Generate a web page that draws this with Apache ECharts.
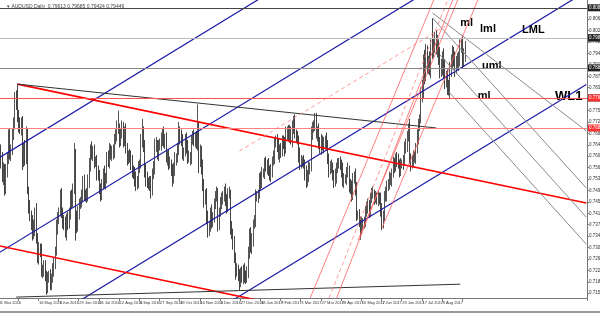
<!DOCTYPE html>
<html><head><meta charset="utf-8">
<script src="https://cdn.jsdelivr.net/npm/echarts@6/dist/echarts.min.js"></script>
<style>html,body{margin:0;padding:0;background:#fff;overflow:hidden}#c{width:600px;height:313px}</style>
</head><body><div id="c"></div>
<script>
// ---- DATA (prices x10000, daily bars from 31 Mar 2016) ----
const symbolInfo = '\u25BE AUDUSD,Daily  0.79613 0.79685 0.79424 0.79446';
const dateLabels = ['31 Mar 2016','22 Apr 2016','16 May 2016','7 Jun 2016','29 Jun 2016','21 Jul 2016','12 Aug 2016','5 Sep 2016','27 Sep 2016','19 Oct 2016','10 Nov 2016','2 Dec 2016','27 Dec 2016','18 Jan 2017','9 Feb 2017','3 Mar 2017','27 Mar 2017','18 Apr 2017','10 May 2017','1 Jun 2017','23 Jun 2017','17 Jul 2017','8 Aug 2017','30 Aug 2017'];
const firstOpen = 7680;
const closes = [
7660,7630,
7590,7540,7560,7500,7550, 7600,7670,7620,7630,7680, 7720,7800,7780,7740,7710, 7700,7720,7590,7630,7600,
7680,7490,7440,7410,7390, 7350,7370,7420,7330,7270, 7300,7290,7220,7230,7240, 7210,7170,7200,7210,7180,
7200,7230,7250,7290,7370, 7400,7420,7470,7420,7390, 7380,7350,7400,7380,7420, 7470,7450,7500,7620,7400,
7370,7420,7450,7450,7480, 7520,7480,7470,7480,7520, 7580,7630,7610,7620,7590, 7590,7550,7540,7500,7480,
7510,7550,7520,7530,7600, 7590,7630,7610,7620,7620, 7660,7680,7700,7700,7660, 7680,7700,7660,7690,7630,
7600,7610,7600,7580,7560, 7550,7530,7510,7520,7570, 7580,7660,7680,7640,7560, 7530,7520,7510,7520,7490,
7550,7570,7640,7640,7610, 7640,7650,7660,7680,7650, 7660,7600,7610,7580,7580, 7560,7530,7560,7600,7600,
7630,7690,7670,7660,7610, 7620,7660,7640,7600,7600, 7600,7660,7670,7660,7670, 7650,7700,7590,7620,7570,
7510,7460,7480,7400,7360, 7370,7420,7390,7400,7450, 7470,7480,7380,7420,7450, 7470,7470,7490,7460,7440,
7480,7480,7370,7350,7320, 7270,7220,7230,7210,7190, 7220,7200,7230,7210,
7200,7220,7290,7340,7300, 7330,7380,7390,7470,7470, 7480,7530,7520,7550,7550, 7580,7570,7580,7560,7540,
7560,7590,7600,7650,7660, 7640,7610,7630,7620,7660, 7650,7630,7680,7690,7670, 7690,7660,7700,7720,7680,
7670,7660,7610,7580,7590, 7590,7580,7550,7520,7540, 7570,7570,7680,7700,7710, 7730,7680,7690,7650,7630,
7660,7640,7650,7660,7640, 7600,7560,7570,7570,7540, 7520,7540,7570,7580,7585, 7580,7560,7520,7530,7530,
7550,7560,7510,7500,7480, 7530,7540,7500,7410,7410, 7390,7360,7380,7380,7390, 7420,7440,7440,7420,7470,
7480,7480,7470,7470,7460, 7470,7460,7430,7380,7410, 7470,7480,7510,7510,7530, 7530,7550,7580,7570,7600,
7590,7580,7560,7580,7580, 7590,7640,7640,7670,7690, 7600,7580,7590,7600,7600, 7630,7670,7710,7730,7810,
7830,7920,7880,7950,7910, 7920,7900,7970,7960,7980, 7990,7970,7970,7940,7900, 7900,7930,7900,7860,7870,
7830,7820,7900,7920,7940, 7930,7900,7920,7920,7930, 7970,7980,7930,7940,7970
];
const wickUp = [
20,25,
15,30,25,20,30, 20,25,30,15,20, 15,20,25,66,20, 25,15,20,20,30,
25,20,15,20,15, 20,25,15,30,20, 20,15,25,15,20, 20,15,20,15,20,
15,20,20,15,25, 20,15,25,30,15, 20,25,15,20,15, 20,25,15,30,10,
25,20,15,20,15, 20,25,15,20,25, 20,15,25,20,25, 15,20,25,20,15,
20,15,25,20,20, 25,20,15,20,25, 20,15,25,58,15, 20,25,20,15,25,
20,15,20,25,30, 15,20,25,20,20, 15,20,50,25,20, 20,25,15,20,20,
15,20,25,30,20, 20,15,25,20,25, 20,25,15,20,25, 15,20,25,20,15,
20,30,15,25,20, 15,20,25,20,25, 20,15,20,25,15, 20,78,20,25,20,
25,20,15,20,25, 20,15,25,20,15, 20,25,20,15,20, 15,20,15,25,20,
20,25,15,20,15, 20,15,20,15,20, 15,20,15,20,
15,20,15,25,30, 20,15,20,25,20, 15,20,25,20,15, 20,25,15,20,15,
20,15,25,20,15, 20,25,15,20,15, 15,20,25,15,20, 20,15,25,20,25,
15,20,15,25,20, 15,20,15,25,20, 20,15,25,20,15, 20,20,15,25,20,
20,15,20,15,25, 20,15,20,25,15, 20,25,15,20,15, 20,15,25,20,15,
20,25,15,20,25, 20,15,25,20,15, 20,15,25,20,15, 20,15,25,20,15,
20,25,15,20,15, 20,15,25,20,15, 20,25,15,20,25, 20,15,25,20,15,
20,25,15,20,15, 20,15,25,20,25, 40,15,20,25,20, 20,25,20,15,25,
30,25,40,30,25, 20,35,25,95,20, 30,35,40,25,30, 30,25,35,30,20,
25,30,20,25,35, 30,25,20,30,25, 25,20,30,25,20
];
const wickDown = [
20,30,
25,20,30,25,20, 15,20,25,30,20, 20,25,20,20,25, 20,25,30,20,25,
20,10,25,20,30, 25,20,30,15,20, 25,20,15,20,25, 20,25,20,15,20,
20,15,25,20,15, 25,20,15,20,25, 20,15,25,20,15, 25,20,15,20,75,
20,15,25,20,15, 25,20,15,20,25, 20,25,15,20,25, 20,25,15,20,25,
20,15,20,25,15, 20,25,15,20,25, 20,15,25,20,25, 20,15,25,20,15,
25,20,15,20,25, 20,25,20,15,20, 20,15,25,20,25, 25,20,15,20,25,
15,20,25,20,15, 20,15,25,20,15, 20,15,25,20,15, 20,25,15,20,25,
15,20,25,20,15, 20,15,25,20,15, 25,20,15,20,25, 20,25,40,20,25,
20,25,15,20,25, 20,15,25,20,15, 20,15,25,20,15, 20,25,15,20,25,
20,15,25,20,25, 20,25,15,20,30, 20,15,20,25,
20,15,20,25,15, 20,25,15,20,15, 20,15,25,20,15, 20,15,25,20,15,
20,25,15,20,15, 20,15,25,20,15, 20,25,15,20,15, 20,15,25,20,15,
20,15,25,20,15, 20,15,25,20,15, 20,25,15,20,15, 20,15,25,20,15,
20,15,25,20,15, 20,25,15,20,15, 20,15,25,20,15, 20,25,15,20,15,
20,15,25,20,25, 20,15,25,20,15, 20,32,15,20,15, 20,15,25,20,15,
20,15,25,20,15, 20,15,25,20,15, 20,15,25,20,15, 20,25,15,20,15,
20,15,25,20,15, 20,15,25,20,15, 20,25,15,20,15, 20,15,25,20,15,
25,30,35,25,30, 30,25,35,30,25, 30,25,35,30,35, 30,25,35,30,25,
20,12,25,30,25, 25,30,20,25,30, 25,20,30,25,20
];
const priceTicks = [0.7150,0.7188,0.7226,0.7264,0.7302,0.7340,0.7378,0.7416,0.7454,0.7492,0.7530,0.7568,0.7606,0.7644,0.7682,0.7720,0.7758,0.7796,0.7834,0.7872,0.7910,0.7948,0.7986,0.8024,0.8062,0.8100];
// horizontal levels: [price, kind]
const levels = [[0.8083,'dark'],[0.8004,'mid'],[0.7983,'light'],[0.7883,'mid'],[0.7846,'dark'],[0.7763,'red'],[0.7683,'redlight']];
// trend lines: [kind, [barIndex, price], [barIndex, price]]
const trendLines = [
  ['blue',[0,0.7600],[466,0.8794]],
  ['blue',[0,0.7284],[466,0.8478]],
  ['blue',[0,0.6960],[466,0.8155]],
  ['blue',[0,0.6651],[466,0.7845]],
  ['redThick',[15,0.7846],[466,0.7450]],
  ['redThick',[0,0.7308],[239,0.7097]],
  ['black',[15,0.7846],[347,0.7700]],
  ['black',[14,0.7137],[366,0.7180]],
  ['gray',[344,0.8083],[466,0.7690]],
  ['gray',[344,0.8066],[466,0.7500]],
  ['gray',[350,0.7943],[466,0.7403]],
  ['gray',[357,0.7820],[466,0.7313]],
  ['redThin',[247,0.7134],[345,0.8126]],
  ['redThin',[268,0.7134],[360,0.8126]],
  ['redThin',[285,0.7327],[364,0.8126]],
  ['redThin',[304,0.7367],[380,0.8126]],
  ['pinkDash',[262,0.7134],[356,0.8126]],
  ['pinkDash',[191,0.7623],[354,0.8039]]
];
const annotations = [['ml',371,0.8049,11],['lml',388,0.8029,11],['LML',424,0.8026,11],['uml',391,0.7906,11],['ml',385,0.7806,11],['WL1',452,0.7804,13]];
const totalBars = 467;

// ---- BUILD ----
const ohlc = closes.map((c, i) => {
  const o = i ? closes[i-1] : firstOpen;
  const h = Math.max(o, c) + wickUp[i];
  const l = Math.min(o, c) - wickDown[i];
  return [o/10000, c/10000, l/10000, h/10000];
});
const cats = Array.from({length: totalBars}, (_, i) => String(i));
const lineStyles = {
  blue: {color:'#1a1aa8', width:1.2},
  redThick: {color:'#ff0000', width:1.6},
  black: {color:'#333333', width:1},
  gray: {color:'#8a8a8a', width:1},
  redThin: {color:'#ff6060', width:0.8},
  pinkDash: {color:'#ff8080', width:0.8, type:[4,3]}
};
const levelStyles = {
  dark:{color:'#444', bg:'#222'}, mid:{color:'#888', bg:'#222'}, light:{color:'#bbb', bg:'#222'},
  red:{color:'#ff5050', bg:'#ff3030'}, redlight:{color:'#ff8080', bg:'#ff3030'}
};
const tickIdx = i => i % 16 === 0 && i/16 < dateLabels.length;

const series = [{
  type:'candlestick', data: ohlc, barWidth: 1,
  itemStyle:{color:'#ffffff', color0:'#444', borderColor:'#555', borderColor0:'#444', borderWidth:1},
  markLine:{
    symbol:'none', silent:true, animation:false,
    data: levels.map(([p,k]) => ({
      yAxis:p,
      lineStyle:{color:levelStyles[k].color, width:1, type:'solid'},
      label:{show:true, position:'end', distance:1, formatter: p.toFixed(5), fontSize:4.5, color:'#fff',
        backgroundColor:levelStyles[k].bg, padding:[1,1]}
    }))
  }
}];
trendLines.forEach(([k,a,b]) => {
  const s = lineStyles[k];
  series.push({type:'line', data:[a,b], symbol:'none', silent:true, animation:false,
    lineStyle:{color:s.color, width:s.width, type:s.type || 'solid'}});
});
series.push({type:'custom', silent:true, animation:false, clip:false,
  data: annotations.map(([t,x,y,f]) => [x,y,f,t]),
  encode:{x:0, y:1},
  renderItem:(params, api) => {
    const a = annotations[params.dataIndex];
    const p = api.coord([a[1], a[2]]);
    return {type:'text', x:p[0], y:p[1], style:{text:a[0], fill:'#000',
      font:'bold ' + a[3] + 'px "Liberation Sans", Arial, sans-serif', align:'center', verticalAlign:'middle'}};
  }});

const chart = echarts.init(document.getElementById('c'), null, {renderer:'canvas'});
chart.setOption({
  animation:false,
  backgroundColor:'#ffffff',
  title:{text:symbolInfo, left:2, top:-1, textStyle:{fontSize:5, fontWeight:'normal', color:'#444'}},
  grid:{left:-2, right:13, top:0, bottom:15, containLabel:false, outerBoundsMode:'none'},
  xAxis:{type:'category', data:cats, boundaryGap:true,
    axisLine:{lineStyle:{color:'#777', width:1}},
    axisTick:{show:true, interval:tickIdx, length:3, lineStyle:{color:'#777'}},
    axisLabel:{interval:tickIdx, formatter:(v,i)=>dateLabels[i/16] || '', fontSize:4, color:'#333', align:'left', margin:3, fontFamily:'Liberation Sans, Arial', hideOverlap:false, showMinLabel:true},
    splitLine:{show:false}},
  yAxis:{type:'value', position:'right', min:0.7134, max:0.8126, scale:true,
    axisLine:{show:true, lineStyle:{color:'#777'}},
    axisTick:{show:true, customValues:priceTicks, length:2, lineStyle:{color:'#777'}},
    axisLabel:{customValues:priceTicks, formatter:v=>v.toFixed(5), fontSize:4.5, color:'#333', margin:2, fontFamily:'Liberation Sans, Arial'},
    splitLine:{show:false}},
  graphic:[{type:'rect', shape:{x:0, y:311, width:600, height:2}, style:{fill:'#999'}, silent:true}],
  series
});
</script></body></html>
